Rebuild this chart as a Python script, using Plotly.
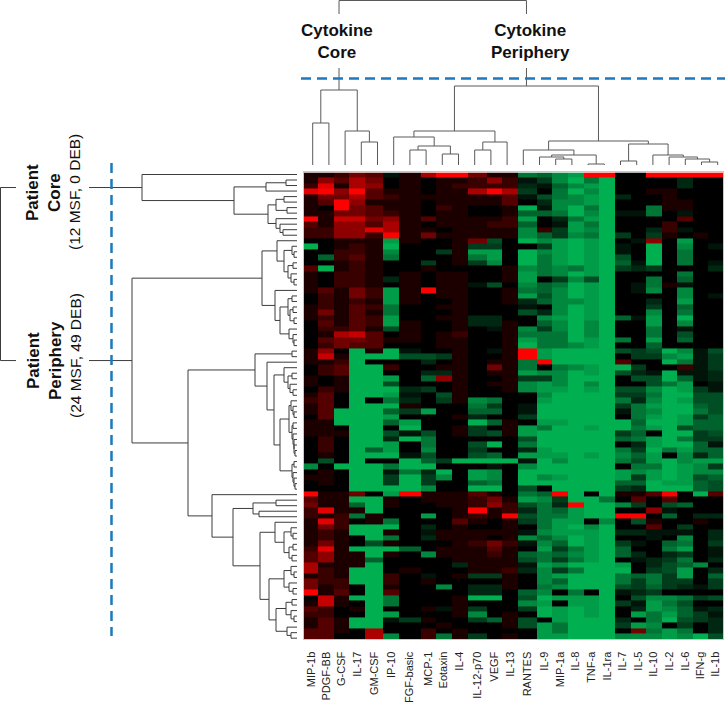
import plotly.graph_objects as go

W, H = 725, 714

cytokines = ["MIP-1b", "PDGF-BB", "G-CSF", "IL-17", "GM-CSF", "IP-10", "FGF-basic", "MCP-1", "Eotaxin", "IL-4",
             "IL-12-p70", "VEGF", "IL-13", "RANTES", "IL-9", "MIP-1a", "IL-8", "TNF-a", "IL-1ra", "IL-7", "IL-5",
             "IL-10", "IL-2", "IL-6", "IFN-g", "IL-1b"]

# relative level per patient (row): first 13 cytokines
core_block = [
[1,1,2,4,3,-1,1,6,9,9,4,1,1],[1,5,3,6,4,0,1,0,1,1,2,5,2],[2,8,1,6,5,0,1,0,1,2,2,2,2],[8,9,5,9,3,1,1,0,1,1,6,9,6],
[1,4,4,6,3,2,1,1,1,1,1,1,3],[1,3,9,5,1,1,1,0,1,1,1,1,3],[1,0,9,4,3,1,1,0,2,1,0,0,1],[1,1,4,4,3,2,1,0,1,1,0,0,1],
[9,1,7,7,4,5,1,3,1,1,1,1,2],[3,1,5,5,3,6,1,0,1,1,1,2,2],[2,2,5,5,8,6,1,1,0,1,1,1,1],[2,2,5,5,2,9,1,4,1,1,1,1,1],
[0,0,1,1,1,-8,1,0,0,1,4,-4,0],[-9,0,1,2,1,-9,0,0,0,1,-3,-3,0],[0,0,2,2,1,-7,0,0,-3,1,-8,-8,0],[0,-5,2,3,1,-6,0,0,0,1,-6,-8,0],
[0,0,1,2,1,0,0,-3,0,1,-3,-7,0],[3,-9,1,2,1,0,0,1,0,0,0,0,1],[1,0,2,2,1,0,1,0,1,1,0,0,1],[1,0,2,2,1,-2,1,0,1,1,0,0,1],
[1,0,2,2,1,0,1,0,1,1,-1,-4,0],[1,3,1,4,2,-8,1,9,1,1,0,0,1],[0,2,1,4,2,-8,1,0,1,1,0,0,1],[0,2,1,2,1,-8,1,0,0,1,0,0,1],
[1,2,1,3,2,-6,0,0,1,1,0,0,0],[1,4,1,3,1,-6,0,0,0,1,0,0,0],[1,2,1,3,2,-8,0,0,1,1,-2,-2,0],[0,3,1,3,2,-8,1,0,0,1,-2,-2,1],
[0,2,2,3,1,-4,1,0,0,1,0,-1,1],[0,1,6,7,3,0,1,0,1,2,0,0,1],[0,3,4,4,3,1,1,0,1,1,0,0,1],[0,2,4,3,3,0,0,0,1,1,0,0,1],
[1,5,0,-9,1,-9,-1,0,0,1,0,-1,1],[1,7,1,-9,-9,-9,-4,-4,-3,1,0,0,1],[1,1,2,-9,0,0,0,-2,0,1,0,1,1],[0,2,3,-9,-9,2,0,0,1,1,0,4,1],
[0,2,3,-9,-9,0,0,-2,-2,1,0,1,1],[1,0,1,-9,-9,-8,0,-5,5,1,0,0,1],[1,0,1,-9,-9,-4,0,0,0,1,0,1,1],[0,2,1,-9,-9,-9,-2,-3,0,1,0,0,1],
[1,3,0,-9,-9,-8,-1,0,-4,1,0,0,0],[2,3,0,-9,0,-6,-2,0,-3,1,-7,-6,0],[1,3,0,-9,-9,-9,1,0,0,0,-6,-3,0],[1,3,-9,-9,-9,-5,-3,-8,0,0,-5,-5,0],
[0,3,-9,-9,-9,-8,0,0,0,1,-2,0,0],[1,1,-9,-9,-9,-5,-8,0,0,0,-9,-5,1],[1,1,0,-9,-9,0,-9,0,0,1,-3,0,1],[1,1,1,-9,-9,-4,-1,-4,0,1,-3,-4,1],
[0,2,0,-9,-9,-2,-9,-6,0,0,0,0,0],[0,2,0,-9,-9,-8,0,-6,0,0,-4,-9,0],[0,2,0,-9,-5,-8,0,-7,0,0,-3,0,0],[0,1,0,-9,-9,-9,-1,-4,0,0,-4,-5,0],
[0,-4,0,-9,0,0,-9,-5,-3,-9,-9,-9,-9],[-7,0,-9,-9,-9,-6,-9,-9,0,0,0,-1,0],[0,1,0,-9,-9,-1,-6,-2,-9,0,-8,-7,0],[1,1,0,-9,-9,-3,-9,-3,-7,0,-8,-7,0],
[0,1,0,-9,-9,-3,-9,-3,0,0,-5,-6,0],[0,0,0,-9,-9,-9,-9,-7,0,0,-9,-9,0],[9,1,1,4,0,-8,9,1,1,1,3,1,0],[3,1,1,-9,-9,1,0,1,1,1,2,4,1],
[4,1,1,-5,-9,1,0,0,1,1,2,5,2],[2,8,1,1,-9,0,0,0,0,1,9,1,2],[2,1,2,-6,1,0,0,-8,0,1,2,1,9],[1,8,2,0,1,-6,0,0,0,3,1,0,1],
[1,4,2,-9,-9,-9,0,-2,0,1,0,0,1],[1,2,1,-9,-9,1,0,-1,1,1,1,1,1],[1,2,1,0,-9,-6,0,-2,1,1,1,0,1],[1,4,1,0,-4,1,0,0,0,1,2,4,2],
[2,8,1,-9,-9,-9,-5,0,1,1,1,3,1],[3,5,1,1,-9,1,0,-7,1,1,1,2,1],[3,5,1,1,-5,0,0,0,0,1,1,1,1],[6,1,1,1,-9,0,0,0,0,-2,1,1,1],
[6,2,1,-9,-9,0,1,0,0,0,1,1,2],[1,2,1,-9,-9,2,0,-1,0,1,-3,-3,1],[4,2,2,-9,-9,2,0,1,0,0,0,0,1],[4,1,2,0,-9,1,0,0,-7,0,-2,-2,1],
[9,1,3,0,-9,3,0,0,0,0,-2,-2,0],[0,7,1,-9,-9,-6,0,0,0,1,-9,-9,0],[1,7,1,0,-9,-6,0,0,0,1,0,0,0],[3,2,0,1,-9,0,0,1,-1,1,-3,0,0],
[2,2,0,0,-9,-8,0,0,0,1,-7,0,1],[1,3,1,-9,-9,-1,-3,1,0,0,-3,-5,1],[1,3,1,-9,-9,0,0,0,1,0,0,0,1],[3,3,1,0,6,0,0,2,0,1,0,0,0],
[3,3,0,0,6,-7,0,2,-6,1,-3,0,1],
]

# relative level per patient (row): last 13 cytokines
periphery_block = [
[-6,-5,-7,-8,9,9,0,0,9,9,9,9,9],[-1,-3,-7,-9,-6,-9,0,0,0,0,-2,0,0],[-2,-1,-5,-7,-8,-9,0,0,0,0,-2,0,0],[-3,0,-6,-9,-7,-9,0,0,1,1,0,0,0],
[-1,-4,-6,-7,-8,-9,-2,0,0,1,0,0,0],[0,-2,-7,-7,-8,-9,0,0,0,1,1,0,0],[-9,-1,-7,-9,-6,-9,0,0,-6,1,1,0,0],[-5,-5,-6,-9,-7,-9,-1,-1,-6,0,-1,0,0],
[-8,0,-2,-6,-8,-9,0,0,0,0,3,0,0],[-5,0,-1,-8,-6,-9,0,0,0,2,0,0,0],[-7,2,-3,-8,-7,-9,0,0,-2,2,-1,0,0],[-7,-5,-3,-7,-6,-9,-3,0,-3,1,0,1,0],
[-9,-7,-8,-9,-8,-9,0,-1,5,0,-8,0,0],[0,-3,-8,-9,-8,-9,-1,0,-9,0,-7,0,-1],[-9,-7,-8,-9,-8,-9,-1,0,-9,0,-6,0,0],[-9,-6,-8,-9,-8,-9,-4,0,-9,0,-6,0,0],
[-9,-6,-8,-9,-8,-9,-5,-1,-9,0,-6,0,-1],[-7,-6,-7,-6,-8,-9,-3,-2,-3,0,0,0,-2],[-8,-6,-7,-9,-8,-9,0,0,0,0,-6,0,0],[-8,0,-3,-7,-4,-9,0,0,-6,0,-5,0,0],
[-7,-5,-6,-9,-8,-9,0,-1,-6,1,-1,0,0],[-6,-5,-7,-9,-8,-9,0,-1,-7,0,-7,0,0],[-8,-4,-7,-9,-8,-9,0,0,0,0,-7,0,-1],[-2,-5,-7,-7,-8,-9,0,0,-2,0,-8,0,0],
[-1,0,-7,-9,-8,-9,0,0,-3,0,-5,0,0],[-4,-2,-7,-9,-8,-9,0,0,-7,0,-6,0,0],[0,-7,-8,-9,-8,-9,-5,-1,-8,0,-9,0,0],[0,-5,-7,-9,-7,-9,0,0,-8,0,-7,0,0],
[-7,-3,-7,-9,-7,-9,0,0,-6,0,-1,0,0],[-6,-6,-6,-9,-7,-9,0,0,-6,0,-4,0,0],[-8,-6,-6,-9,-8,-9,-6,0,-8,0,-5,0,0],[-9,-6,-6,-7,-8,-9,0,0,-5,0,0,0,0],
[9,-8,-9,-9,-9,-9,-4,-3,-4,-9,-7,-1,-4],[9,-8,-9,-9,-9,-9,0,-3,-3,-7,-8,-1,-3],[-6,9,-9,-9,-9,-9,3,0,0,-9,-6,-1,-3],[-6,0,-6,-7,-8,-9,-9,-3,0,0,2,-1,-3],
[-8,-7,-7,-9,-8,-9,-4,-2,-1,-9,-1,-1,-2],[-3,-3,-7,-9,-9,-9,0,-4,-4,-9,-5,-1,-2],[-7,-8,-7,-9,-7,-9,0,0,-4,-6,-8,0,-1],[-7,-8,-8,-9,-8,-9,-4,-4,-7,-9,-8,-3,-1],
[0,-7,-9,-9,-9,-9,-3,-3,-6,-9,-9,-4,-4],[0,-8,-9,-9,-9,-9,-6,-2,-7,-9,-8,-4,-4],[-1,-9,-9,-9,-9,-9,-3,-6,-8,-9,-9,-5,-4],[-1,-9,-9,-9,-9,-9,-1,-6,-7,-9,-9,-6,-4],
[-3,-9,-9,-9,-9,-9,0,-6,-8,-9,-8,-3,-5],[0,-8,-8,-9,-9,-9,-9,-5,-9,-9,-8,-5,-5],[-8,-6,-9,-9,-8,-9,-9,-6,-8,-9,-4,-5,-5],[-8,-9,-9,-9,-9,-9,-3,-5,0,-9,-9,-3,-4],
[-4,-9,-9,-9,-9,-9,-5,-6,-8,-9,-6,-3,-3],[-6,-9,-9,-9,-9,-9,0,-2,-8,-9,-9,-5,-1],[-2,-8,-9,-9,-9,-9,-6,-3,-9,-6,-8,-5,-5],[-8,-8,-8,-9,-8,-9,-7,-5,-8,0,-7,-2,-5],
[-1,-9,-7,-9,-9,-9,-6,-4,-8,-9,-7,-8,-8],[-7,-9,-9,-9,-9,-9,0,-6,-6,-9,-8,-7,-3],[-9,-9,-9,-9,-9,-9,-8,-7,-8,-9,-8,-7,-7],[-9,-7,-8,-9,-9,-9,-8,-3,-8,-9,-8,-4,-5],
[-9,-9,-9,-9,-9,-9,-5,-5,-9,-8,-8,-5,-4],[-4,0,-9,-9,-9,-9,-3,-2,-9,-9,-9,-5,-4],[-6,-5,9,-9,0,-9,1,1,3,9,0,-9,3],[-8,-7,-3,-9,-9,-6,0,3,0,3,0,0,0],
[-4,-6,-2,9,-9,-9,-7,-3,0,-4,-5,0,0],[-2,-6,-5,-8,-9,-9,0,0,5,-1,0,0,0],[-4,-6,-6,-8,-9,-9,9,9,0,-5,0,-2,-2],[-3,-6,-8,-8,0,-7,0,-4,1,0,0,1,0],
[0,-6,-8,-9,-7,-9,0,0,3,0,-3,0,0],[-1,-7,-8,-8,-8,-9,-2,-2,-1,-1,-1,0,-2],[-7,-5,-7,-9,-8,-9,0,0,-1,0,-7,0,-2],[-1,-7,-5,-9,-8,-9,-3,-1,0,-5,-6,0,-3],
[0,-8,-3,-6,-8,-9,-5,0,0,-6,-8,0,-1],[-5,-6,-5,-7,-8,-9,-5,-2,0,-2,-3,0,-1],[-4,-6,-3,-6,-8,-9,0,-1,-2,-3,-6,0,-2],[-1,-8,-7,-9,-9,-9,-8,0,-2,-4,-5,-7,0],
[-2,-7,-3,-6,-9,-9,-9,0,-3,-4,-8,0,-2],[0,-7,-8,-9,-9,-9,-6,-5,-6,-3,-8,0,-5],[0,-7,-5,-9,-9,-9,-6,-3,-6,-3,-3,0,-3],[0,-6,-7,-9,-9,-9,-4,-3,-5,-3,-2,-1,-3],
[-5,-7,0,-6,0,-9,-1,-2,-3,0,0,0,0],[-4,-9,-8,-8,-8,-9,0,-4,-7,-7,-6,-3,-4],[-7,-8,0,-8,-8,-9,-3,-1,-8,-6,-4,0,0],[-3,-9,-8,-9,-8,-9,0,-2,-8,-7,-5,-1,-2],
[0,-9,-8,-9,-8,-9,0,-8,-6,-8,-5,-3,-1],[-4,0,-8,-9,-9,-9,-2,0,-6,-9,-4,-3,-2],[-4,-8,-6,-9,-9,-9,-3,-8,-7,0,-3,0,-2],[0,-8,-6,-9,-9,-9,0,4,-6,-8,-6,0,-2],
[0,-8,-8,-9,-9,-9,-7,-7,-7,-8,-7,-9,-4],
]

# Cytokine clustering: (merge height, left, right), leaves are column numbers
cytokine_core_tree = (75, (42, 0, 1), (34, 2, (23, 3, 4)))
cytokine_periphery_tree = (79,
    (34, (28, 5, (19, (15, 6, 7), (11, 8, 9))), (23, (15, 10, 11), 12)),
    (24, (15, 13, (10, (8, 14, (6, 15, 16)), (1, 17, 18))),
         (21, (4, 19, 20), (10, 21, (8, 22, (6, 23, (3, 24, 25)))))))
cytokine_root_height = 164.5

# Patient clustering: (merge height, left, right), leaves are row numbers
patient_core_tree = (155, 0, (63, (31, (11, 1, 2), 3),
    (29, (21, (13, 4, 5), (10, 6, 7)), (21, 8, (17, 9, (14, 10, 11))))))
patient_p1_tree = (35,
    (20, 12, (13, (5, 13, (3, 14, 15)), (9, (4, 16, 17), (6, 18, (3, 19, 20))))),
    (22, 21, (17, (9, (5, 22, 23), (7, (4, 24, 25), (3, 26, 27))), (8, 28, (4, 29, (3, 30, 31))))))
patient_p2a_tree = (42, (5, 32, 33), (30, 34, (23,
    (13, 35, (9, (5, 36, 37), (7, 38, (4, 39, 40)))),
    (17, (8, (6, 41, (4, 42, (3, 43, 44))), (5, (4, 45, 46), (4, 47, (3, 48, (3, 49, (2, 50, 51)))))),
         (5, (3, 52, 53), (4, 54, (3, 55, (2, 56, 57))))))))
patient_p2b_tree = (85, 58, (64, (44, (21, 59, 60), (38, 61, 62)), (37,
    (22, 63, (13, (6, 64, (4, 65, 66)), (8, (4, 67, 68), (5, 69, 70)))),
    (28, (13, (6, 71, (3, 72, 73)), (8, 74, (4, 75, 76))),
         (21, (11, (5, 77, 78), (6, 79, (3, 80, 81))), (10, 82, (6, 83, 84)))))))
patient_periphery_height = 165
patient_p2_height = 109
patient_root_height = 296.5

expression = [a + b for a, b in zip(core_block, periphery_block)]

# Page geometry (pixels)
col_edges_px = [304, 318.3, 334, 349.3, 365, 383.3, 399, 420.7, 436, 451.7, 467.7, 486.7, 502.3, 518, 536.7, 552.3,
                568, 583.7, 599.3, 615, 630.7, 646, 661.7, 677.3, 692.7, 708.3, 723]
HEAT_TOP, HEAT_BOTTOM = 172.4, 639.3
BLUE = "#1f78bd"
SANS = "Liberation Sans, Arial, sans-serif"


def walk(node, segs):
    """Return centre of node, appending polyline links (leaf position, height)."""
    if not isinstance(node, tuple):
        return node, 0
    h, a, b = node
    ca, ha = walk(a, segs)
    cb, hb = walk(b, segs)
    segs.append([(ca, ha), (ca, h), (cb, h), (cb, hb)])
    return (ca + cb) / 2, h


def line_xy(segs, horizontal_leaves):
    xs, ys = [], []
    for s in segs:
        for pos, h in s:
            if horizontal_leaves:
                xs.append(pos); ys.append(h)
            else:
                xs.append(h); ys.append(pos)
        xs.append(None); ys.append(None)
    return xs, ys


fig = go.Figure()

# heatmap
fig.add_trace(go.Heatmap(
    z=expression,
    x=col_edges_px,
    y=[i - 0.5 for i in range(len(expression) + 1)],
    zmin=-9, zmax=9,
    colorscale=[[0, "rgb(0,176,80)"], [0.5, "rgb(0,0,0)"], [1, "rgb(255,0,0)"]],
    showscale=False, xaxis="x", yaxis="y", hoverinfo="skip",
))

# cytokine dendrogram
col_segs = []
ccore, hcore = walk(cytokine_core_tree, col_segs)
cperi, hperi = walk(cytokine_periphery_tree, col_segs)
gap_low, gap_high = 97, 151
col_segs.append([(ccore, hcore), (ccore, gap_low)])
col_segs.append([(cperi, hperi), (cperi, gap_low)])
col_segs.append([(ccore, gap_high), (ccore, cytokine_root_height), (cperi, cytokine_root_height), (cperi, gap_high)])
x2, y2 = line_xy(col_segs, True)
fig.add_trace(go.Scatter(x=x2, y=y2, mode="lines", line=dict(color="#5a5a5a", width=1),
                         xaxis="x2", yaxis="y2", hoverinfo="skip"))

# patient dendrogram
row_segs = []
rcore, hrcore = walk(patient_core_tree, row_segs)
rp1, hp1 = walk(patient_p1_tree, row_segs)
ra, ha = walk(patient_p2a_tree, row_segs)
rb, hb = walk(patient_p2b_tree, row_segs)
row_segs.append([(ra, ha), (ra, patient_p2_height), (rb, patient_p2_height), (rb, hb)])
rp2 = (ra + rb) / 2
row_segs.append([(rp1, hp1), (rp1, patient_periphery_height), (rp2, patient_periphery_height), (rp2, patient_p2_height)])
rperi = (rp1 + rp2) / 2
gap_l, gap_h = 208, 281
row_segs.append([(rcore, hrcore), (rcore, gap_l)])
row_segs.append([(rperi, patient_periphery_height), (rperi, gap_l)])
row_segs.append([(rcore, gap_h), (rcore, patient_root_height), (rperi, patient_root_height), (rperi, gap_h)])
x3, y3 = line_xy(row_segs, False)
fig.add_trace(go.Scatter(x=x3, y=y3, mode="lines", line=dict(color="#3c3c3c", width=1),
                         xaxis="x3", yaxis="y3", hoverinfo="skip"))

centres = [(col_edges_px[i] + col_edges_px[i + 1]) / 2 for i in range(len(cytokines))]


def hidden(**kw):
    return dict(visible=False, showgrid=False, zeroline=False, **kw)


fig.update_layout(
    width=W, height=H, autosize=False,
    margin=dict(l=0, r=0, t=0, b=0),
    paper_bgcolor="white", plot_bgcolor="rgba(0,0,0,0)",
    showlegend=False,
    xaxis=dict(domain=[304 / W, 723 / W], range=[304, 723], tickmode="array", tickvals=centres, ticktext=cytokines,
               tickangle=-90, ticks="outside", ticklen=7, tickcolor="rgba(0,0,0,0)", showgrid=False, zeroline=False,
               tickfont=dict(family=SANS, size=11, color="#222222"),
               showline=True, linecolor="#c8c8c8", linewidth=1, mirror=True),
    yaxis=dict(domain=[1 - HEAT_BOTTOM / H, 1 - HEAT_TOP / H], range=[84.5, -0.5], showticklabels=False, ticks="",
               showgrid=False, zeroline=False, showline=True, linecolor="#c8c8c8", linewidth=1, mirror=True),
    xaxis2=hidden(domain=[0, 1], range=[(0 - 312.7) / 16.2, (W - 312.7) / 16.2], anchor="y2"),
    yaxis2=hidden(domain=[0, 1], range=[165 - H, 165], anchor="x2"),
    xaxis3=hidden(domain=[0, 1], range=[297, 297 - W], anchor="y3"),
    yaxis3=hidden(domain=[0, 1], range=[(H - 174.5) / 5.52, (0 - 174.5) / 5.52], anchor="x3"),
    shapes=[
        dict(type="line", xref="paper", yref="paper", x0=301 / W, x1=1, y0=1 - 78.5 / H, y1=1 - 78.5 / H,
             line=dict(color=BLUE, width=2.5, dash="10px,6px")),
        dict(type="line", xref="paper", yref="paper", x0=111.5 / W, x1=111.5 / W, y0=1 - 163 / H, y1=1 - 636 / H,
             line=dict(color=BLUE, width=2.5, dash="10px,6px")),
    ],
)


def note(text, px, py, size, bold=False, angle=0):
    fig.add_annotation(xref="paper", yref="paper", x=px / W, y=1 - py / H, text=("<b>%s</b>" % text) if bold else text,
                       showarrow=False, textangle=angle, xanchor="center", yanchor="middle",
                       font=dict(family=SANS, size=size, color="#111111"), align="center")


note("Cytokine<br>Core", 337, 41, 17, bold=True)
note("Cytokine<br>Periphery", 530, 41, 17, bold=True)
note("Patient", 33, 193, 17, bold=True, angle=-90)
note("Core", 55, 193, 17, bold=True, angle=-90)
note("(12 MSF, 0 DEB)", 75, 192, 15.5, angle=-90)
note("Patient", 33, 361, 17, bold=True, angle=-90)
note("Periphery", 55, 361, 17, bold=True, angle=-90)
note("(24 MSF, 49 DEB)", 75, 356, 15.5, angle=-90)

fig.write_html("out.html", config={"displayModeBar": False},
               post_script="document.body.style.margin='0';document.documentElement.style.overflow='hidden';")
